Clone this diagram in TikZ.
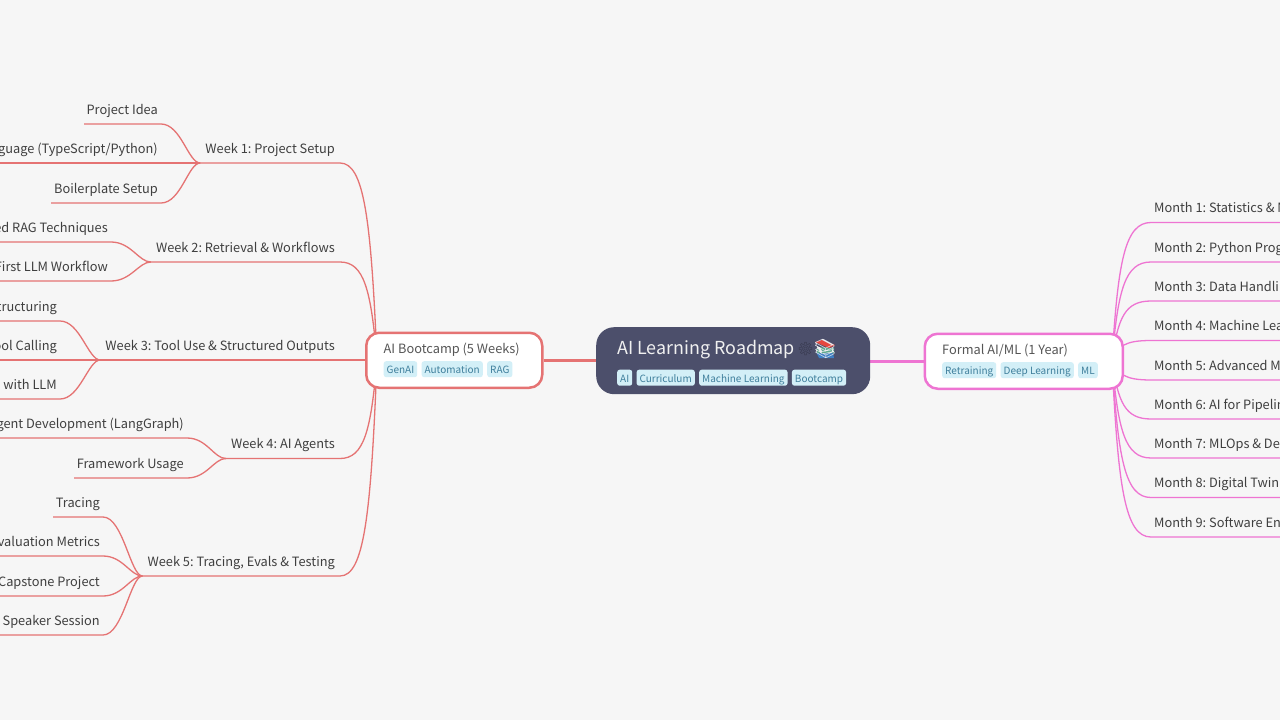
\documentclass[tikz,border=0pt]{standalone}
\usepackage{fontspec}
\setmainfont{Noto Sans CJK SC}
\newfontfamily\emojifont{Noto Emoji}
\usetikzlibrary{positioning,backgrounds}
\frenchspacing
\definecolor{paper}{HTML}{F6F6F6}
\definecolor{bootred}{HTML}{E57373}
\definecolor{formalpink}{HTML}{EE74D2}
\definecolor{rootfill}{HTML}{4C4F6B}
\definecolor{tagfill}{HTML}{D3EFF7}
\definecolor{tagtext}{HTML}{3F7F9C}
\definecolor{ink}{HTML}{3F3F3F}
\definecolor{hubink}{HTML}{555555}
\definecolor{bookred}{HTML}{E5483F}
\definecolor{bookgreen}{HTML}{5FA98F}
\definecolor{bookblue}{HTML}{3E7FC4}
\tikzset{
	x=1pt,y=-1pt,
	tagbox/.style={fill=tagfill,text=tagtext,rounded corners=2.5pt,inner xsep=3pt,inner ysep=0pt,
		text height=12.5pt,text depth=3.5pt,font=\fontsize{10}{12}\selectfont},
	hub/.style={draw,line width=2.5pt,fill=white,rounded corners=13pt,anchor=north west},
	hubtitle/.style={text=hubink,inner sep=0pt,anchor=base west,font=\fontsize{12.8}{16}\selectfont},
	item/.style={text=ink,inner xsep=3pt,inner ysep=5.5pt,text height=11pt,text depth=4pt,
		font=\fontsize{12.8}{16}\selectfont},
	weekitem/.style={item,inner xsep=5pt,anchor=south east},
	leafitem/.style={item,anchor=south east},
	monthitem/.style={item,anchor=south west},
	redline/.style={bootred,line width=1.3pt},
	pinkline/.style={formalpink,line width=1.3pt},
}
\begin{document}
\begin{tikzpicture}
	\useasboundingbox (0,0) rectangle (1280,720);
	\begin{pgfonlayer}{background}
		\fill[paper] (0,0) rectangle (1280,720);
	\end{pgfonlayer}

	% central topic
	\node[fill=rootfill,rounded corners=18pt,minimum width=274pt,minimum height=67pt,anchor=north west] (root) at (596,327) {};
	\node[text=white!94!black,inner sep=0pt,anchor=base west,font=\fontsize{17.9}{22}\selectfont] (title) at (617,354.5) {AI Learning Roadmap};
	\node[text=rootfill!70!black,inner sep=0pt,anchor=center,font=\emojifont\fontsize{13}{16}\selectfont] (gear) at (805.5,349) {⚙};
	\fill[bookblue] (816,352) -- (833,353) -- (834,358) -- (819,358) -- cycle;
	\fill[bookgreen] (817,347) -- (834,348) -- (834,353) -- (817,353) -- cycle;
	\fill[bookred] (815,342) -- (822,340) -- (835,345) -- (829,348) -- cycle;
	\node[text=white!90!rootfill,inner sep=0pt,anchor=center,font=\emojifont\fontsize{19}{22}\selectfont] (books) at (825,349) {📚};
	\node[tagbox,anchor=north west] (rt1) at (617,369.5) {AI};
	\node[tagbox,right=4pt of rt1] (rt2) {Curriculum};
	\node[tagbox,right=4pt of rt2] (rt3) {Machine Learning};
	\node[tagbox,right=4pt of rt3] (rt4) {Bootcamp};

	% the two main branches
	\node[hub,draw=bootred,minimum width=176pt,minimum height=55pt] (boot) at (365,331.5) {};
	\node[hubtitle] (boottitle) at (383.5,353) {AI Bootcamp (5 Weeks)};
	\node[tagbox,anchor=north west] (bt1) at (383.5,361) {GenAI};
	\node[tagbox,right=4pt of bt1] (bt2) {Automation};
	\node[tagbox,right=4pt of bt2] (bt3) {RAG};

	\node[hub,draw=formalpink,minimum width=198pt,minimum height=55pt] (formal) at (923.5,332.5) {};
	\node[hubtitle] (formaltitle) at (942,354) {Formal AI/ML (1 Year)};
	\node[tagbox,anchor=north west] (ft1) at (942,362) {Retraining};
	\node[tagbox,right=4pt of ft1] (ft2) {Deep Learning};
	\node[tagbox,right=4pt of ft2] (ft3) {ML};

	\begin{pgfonlayer}{background}
		\draw[bootred,line width=3pt] (boot.east |- root.west) -- (root.west);
		\draw[formalpink,line width=3pt] (root.east |- formal.west) -- (formal.west);
	\end{pgfonlayer}

	% weeks
	\coordinate (bootjoin) at (377,360);
	\foreach \w/\y/\txt in {w1/163/Week 1: Project Setup,w2/262/Week 2: Retrieval \& Workflows,w3/360/Week 3: Tool Use \& Structured Outputs,w4/458.5/Week 4: AI Agents,w5/576/Week 5: Tracing{,} Evals \& Testing}{
		\node[weekitem] (\w) at (340,\y) {\txt};
		\begin{pgfonlayer}{background}
			\draw[redline] (bootjoin) .. controls (371,{360+0.72*(\y-360)}) and (364,\y) .. (\w.south east) -- (\w.south west);
		\end{pgfonlayer}
	}

	% leaves of the weeks
	\foreach \w/\n/\r/\y/\xl/\txt in {
		w1/a1/161/124/84/Project Idea,
		w1/a2/161/163/-5/{guage (TypeScript/Python)},
		w1/a3/161/203/51/Boilerplate Setup,
		w2/b1/111/242/-5/ed RAG Techniques,
		w2/b2/111/281/-5/First LLM Workflow,
		w3/c1/60/321/-5/tructuring,
		w3/c2/60/360/-5/ool Calling,
		w3/c3/60/399/-5/with LLM,
		w4/d1/187/438/-5/gent Development (LangGraph),
		w4/d2/187/478/74/Framework Usage,
		w5/e1/103/517/53/Tracing,
		w5/e2/103/556/-5/valuation Metrics,
		w5/e3/103/596/-5/Capstone Project,
		w5/e4/103/635/-5/Speaker Session}{
		\node[leafitem] (\n) at (\r,\y) {\txt};
		\coordinate (\n end) at (\xl,\y);
		\draw[redline] (\w.south west) .. controls +(-12,0) and (\r+20,\y) .. (\n.south east) -- (\n end);
	}

	% months
	\coordinate (formaljoin) at (1112,360);
	\coordinate (edge) at (1285,360);
	\foreach \n/\y/\txt in {
		m1/222.5/Month 1: Statistics \& M,
		m2/262/Month 2: Python Prog,
		m3/301/Month 3: Data Handli,
		m4/340.5/Month 4: Machine Lea,
		m5/380/Month 5: Advanced M,
		m6/419/Month 6: AI for Pipelin,
		m7/458/Month 7: MLOps \& De,
		m8/497.5/Month 8: Digital Twin,
		m9/537/Month 9: Software En}{
		\node[monthitem] (\n) at (1151,\y) {\txt};
		\begin{pgfonlayer}{background}
			\draw[pinkline] (formaljoin) .. controls (1118,{360+0.72*(\y-360)}) and (1125,\y) .. (\n.south west) -- (\n.south west -| edge);
		\end{pgfonlayer}
	}
\end{tikzpicture}
\end{document}
